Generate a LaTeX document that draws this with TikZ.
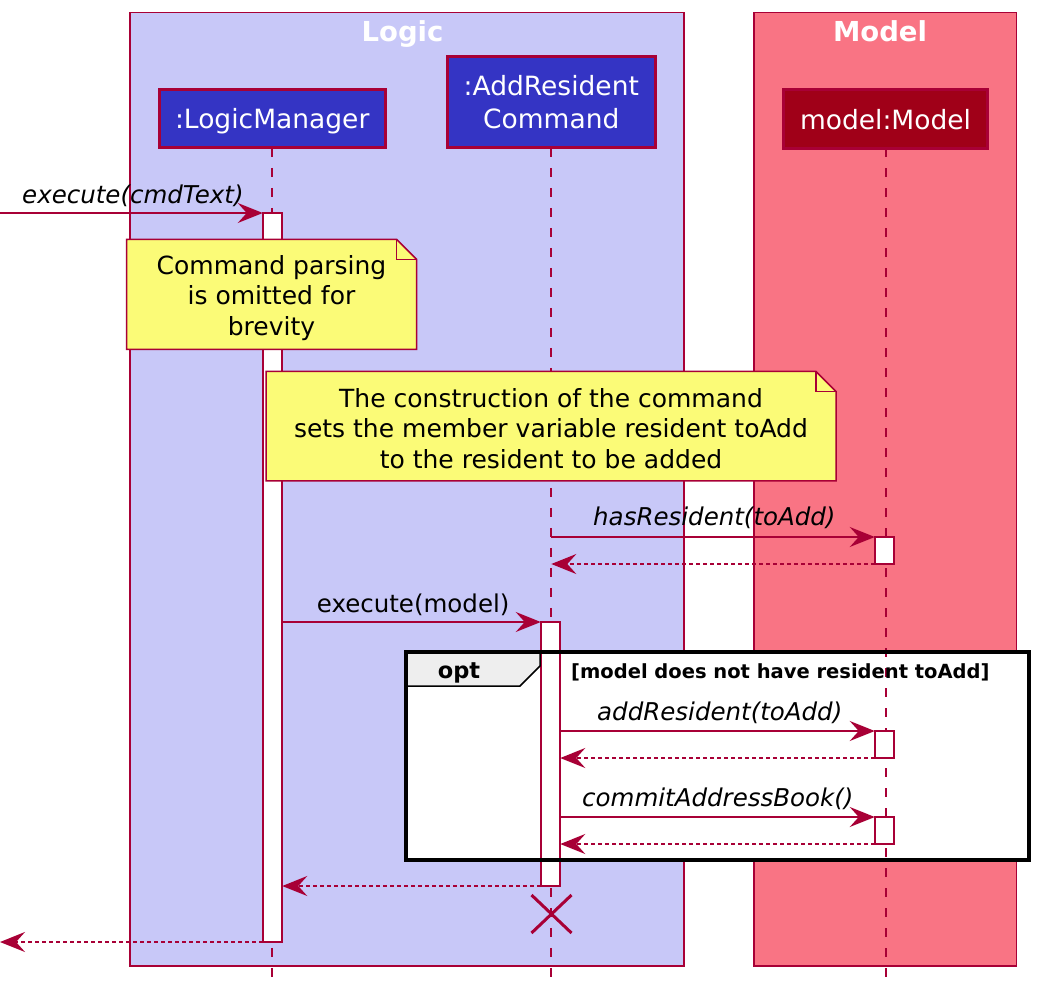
\documentclass[tikz,border=0pt]{standalone}
\usepackage{fontspec}
\setmainfont{DejaVu Sans}
\usetikzlibrary{arrows.meta}

\definecolor{umlred}{HTML}{A80036}
\definecolor{logicbg}{HTML}{C8C8F8}
\definecolor{modelbg}{HTML}{F97484}
\definecolor{partblue}{HTML}{3434C4}
\definecolor{partred}{HTML}{A00018}
\definecolor{notebg}{HTML}{FBFB77}
\definecolor{tabgray}{HTML}{EEEEEE}

\tikzset{
  layerbox/.style={draw=umlred, line width=1.5pt, inner sep=0pt, outer sep=0pt},
  boxtitle/.style={text=white, font=\fontsize{27.5}{32}\selectfont\bfseries, anchor=base, inner sep=0pt},
  participant/.style={draw=umlred, line width=3pt, text=white, align=center,
    font=\fontsize{26.5}{32.6}\selectfont, inner sep=0pt, outer sep=0pt, text depth=0pt},
  lifeline/.style={draw=umlred, line width=2pt, dash pattern=on 9pt off 11pt},
  actbar/.style={draw=umlred, fill=white, line width=2pt, minimum width=19.5pt,
    inner sep=0pt, outer sep=0pt},
  msg/.style={draw=umlred, line width=2pt, -{Stealth[length=25pt,width=20pt,inset=9pt]}},
  ret/.style={msg, dash pattern=on 4pt off 3pt},
  msglabel/.style={font=\fontsize{24.5}{29}\selectfont\itshape, anchor=base west, inner sep=0pt},
  plainlabel/.style={font=\fontsize{24.5}{29}\selectfont, anchor=base west, inner sep=0pt},
  notebox/.style={inner sep=0pt, outer sep=0pt, align=center,
    font=\fontsize{25}{30.5}\selectfont},
  noteline/.style={draw=umlred, fill=notebg, line width=1.5pt, line join=miter},
}

\begin{document}
\begin{tikzpicture}[x=1pt, y=-1pt]
\useasboundingbox (0,0) rectangle (1038,990);
\fill[white] (0,0) rectangle (1038,990);

% layer boxes
\node[layerbox, fill=logicbg, minimum width=554pt, minimum height=953.5pt] (logicBox) at (407,489.25) {};
\node[layerbox, fill=modelbg, minimum width=262.7pt, minimum height=953.5pt] (modelBox) at (885.35,489.25) {};
\node[boxtitle] (logicTitle) at (402.5,41.7) {Logic};
\node[boxtitle] (modelTitle) at (880,41.7) {Model};

% interior of the opt fragment
\node[inner sep=0pt, outer sep=0pt, fill=white, minimum width=623pt, minimum height=208pt] (optFrame) at (717.5,756) {};

% participants
\node[participant, fill=partblue, minimum width=226pt, minimum height=58pt] (lm) at (272.2,118.8) {:LogicManager};
\node[participant, fill=partblue, minimum width=207.7pt, minimum height=91.3pt] (ar) at (551.3,102.2) {:AddResident\\Command};
\node[participant, fill=partred, minimum width=204.6pt, minimum height=58.4pt] (mm) at (885.5,119) {model:Model};

% lifelines
\coordinate (bottomEdge) at (0,978);
\draw[lifeline] (lm.south) -- (lm.south |- bottomEdge);
\draw[lifeline] (ar.south) -- (ar.south |- bottomEdge);
\draw[lifeline] (mm.south) -- (mm.south |- bottomEdge);

% activation bars
\node[actbar, minimum height=729pt] (lmAct) at (272.5,577.5) {};
\node[actbar, minimum height=264pt] (arAct) at (550.5,754) {};
\node[actbar, minimum height=27pt] (mAct1) at (884.5,550.5) {};
\node[actbar, minimum height=27pt] (mAct2) at (884.5,744.5) {};
\node[actbar, minimum height=27pt] (mAct3) at (884.5,830.5) {};

% notes
\node[notebox, minimum width=290pt, minimum height=110pt] (note1) at (271.5,294.3) {};
\path[noteline] (note1.north west) -- ([xshift=-20pt]note1.north east) -- ([yshift=-20pt]note1.north east)
  -- (note1.south east) -- (note1.south west) -- cycle;
\draw[noteline, fill=none] ([xshift=-20pt]note1.north east) -- ([xshift=-20pt,yshift=-20pt]note1.north east)
  -- ([yshift=-20pt]note1.north east);
\node[notebox] (note1text) at (271.5,298) {Command parsing\\is omitted for\\brevity};

\node[notebox, minimum width=570pt, minimum height=109.5pt] (note2) at (551,426.2) {};
\path[noteline] (note2.north west) -- ([xshift=-20pt]note2.north east) -- ([yshift=-20pt]note2.north east)
  -- (note2.south east) -- (note2.south west) -- cycle;
\draw[noteline, fill=none] ([xshift=-20pt]note2.north east) -- ([xshift=-20pt,yshift=-20pt]note2.north east)
  -- ([yshift=-20pt]note2.north east);
\node[notebox] (note2text) at (551,428.5) {The construction of the command\\sets the member variable resident toAdd\\to the resident to be added};

% messages
\coordinate (inStart) at (0,213);
\draw[msg] (inStart) -- (lmAct.north west);
\node[msglabel] (lblCmd) at (22,203) {execute(cmdText)};

\draw[msg] (ar.south |- mAct1.north) -- (mAct1.north west);
\node[msglabel] (lblHas) at (593,525.7) {hasResident(toAdd)};
\draw[ret] (mAct1.south west) -- (ar.south |- mAct1.south);

\draw[msg] (lmAct.east |- arAct.north) -- (arAct.north west);
\node[plainlabel] (lblExec) at (316.7,612.3) {execute(model)};

\draw[msg] (arAct.east |- mAct2.north) -- (mAct2.north west);
\node[msglabel] (lblAdd) at (597,720) {addResident(toAdd)};
\draw[ret] (mAct2.south west) -- (arAct.east |- mAct2.south);

\draw[msg] (arAct.east |- mAct3.north) -- (mAct3.north west);
\node[msglabel] (lblCommit) at (582,806) {commitAddressBook()};
\draw[ret] (mAct3.south west) -- (arAct.east |- mAct3.south);

\draw[ret] (arAct.south west) -- (lmAct.east |- arAct.south);
\draw[ret] (lmAct.south west) -- (lmAct.south west -| inStart);

% opt fragment border and tab
\draw[black, line width=1.5pt, fill=tabgray] (optFrame.north west) -- ([xshift=134pt]optFrame.north west)
  -- ([xshift=134pt,yshift=-14pt]optFrame.north west) -- ([xshift=114pt,yshift=-34pt]optFrame.north west)
  -- ([yshift=-34pt]optFrame.north west);
\draw[black, line width=3.5pt] (optFrame.north west) rectangle (optFrame.south east);
\node[font=\fontsize{22.5}{27}\selectfont\bfseries, anchor=base west, inner sep=0pt] (optLabel) at (437.7,678) {opt};
\node[font=\fontsize{19.5}{24}\selectfont\bfseries, anchor=base west, inner sep=0pt] (optGuard) at (571,678) {[model does not have resident toAdd]};

% destruction of the command
\coordinate (destroyAt) at (551.5,914);
\draw[umlred, line width=3pt] ([shift={(-20,-19)}]destroyAt) -- ([shift={(20,19)}]destroyAt)
  ([shift={(-20,19)}]destroyAt) -- ([shift={(20,-19)}]destroyAt);
\end{tikzpicture}
\end{document}
